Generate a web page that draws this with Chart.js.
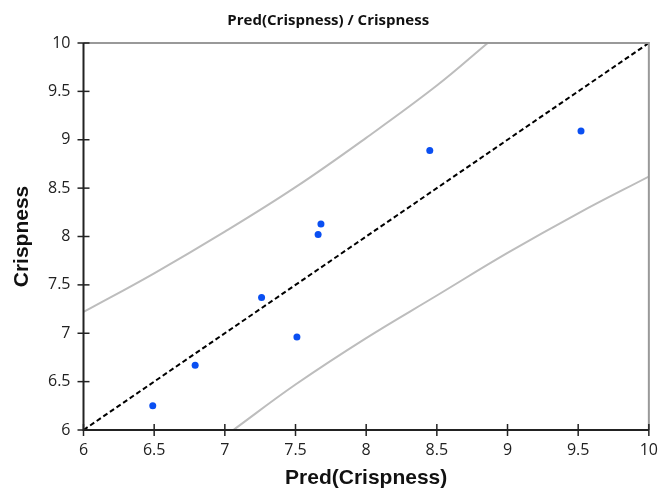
<!DOCTYPE html>
<html>
<head>
<meta charset="utf-8">
<script src="https://cdn.jsdelivr.net/npm/chart.js@4"></script>
<style>
  html, body { margin: 0; padding: 0; background: #fff; }
  #wrap { width: 661px; height: 491px; }
</style>
</head>
<body>
<div id="wrap"><canvas id="chart" width="661" height="491"></canvas></div>
<script>
// Observed vs predicted
const predValues = [6.49, 6.79, 7.26, 7.51, 7.66, 7.68, 8.45, 9.52];
const crispValues = [6.25, 6.67, 7.37, 6.96, 8.02, 8.13, 8.89, 9.09];

// Confidence band (upper / lower)
const upperX = [6, 6.5, 7, 7.5, 8, 8.5, 8.86];
const upperY = [7.22, 7.62, 8.05, 8.51, 9.02, 9.56, 10];
const lowerX = [7.06, 7.5, 8, 8.5, 9, 9.5, 10];
const lowerY = [6, 6.47, 6.95, 7.39, 7.83, 8.24, 8.62];

// Identity line
const diagX = [6, 10];
const diagY = [6, 10];

const axisMin = 6;
const axisMax = 10;
const tickStep = 0.5;

const toPoints = (xs, ys) => xs.map((x, i) => ({ x, y: ys[i] }));

// Frame: dark left/bottom, grey top/right, ticks crossing the axes
const framePlugin = {
    id: 'frame',
    afterDatasetsDraw(chart) {
        const { ctx, chartArea: a, scales } = chart;
        ctx.save();
        ctx.lineWidth = 2;
        ctx.strokeStyle = '#999';
        ctx.beginPath();
        ctx.moveTo(a.left, a.top);
        ctx.lineTo(a.right, a.top);
        ctx.lineTo(a.right, a.bottom);
        ctx.stroke();

        ctx.strokeStyle = '#222';
        ctx.beginPath();
        ctx.moveTo(a.left, a.top);
        ctx.lineTo(a.left, a.bottom);
        ctx.lineTo(a.right, a.bottom);
        ctx.stroke();

        ctx.lineWidth = 1.5;
        scales.x.ticks.forEach(t => {
            const px = scales.x.getPixelForValue(t.value);
            ctx.beginPath();
            ctx.moveTo(px, a.bottom - 6);
            ctx.lineTo(px, a.bottom + 6);
            ctx.stroke();
        });
        scales.y.ticks.forEach(t => {
            const py = scales.y.getPixelForValue(t.value);
            ctx.beginPath();
            ctx.moveTo(a.left - 6, py);
            ctx.lineTo(a.left + 6, py);
            ctx.stroke();
        });
        ctx.restore();
    }
};

const tickFont = { family: 'Open Sans', size: 16 };
const axisTitleFont = { family: 'Liberation Sans', size: 21, weight: 'bold' };

const ctx = document.getElementById('chart').getContext('2d');
new Chart(ctx, {
    type: 'scatter',
    data: {
        datasets: [
            {
                label: 'Crispness',
                data: toPoints(predValues, crispValues),
                backgroundColor: '#0a4ff2',
                borderWidth: 0,
                pointRadius: 3.5,
                order: 0
            },
            {
                type: 'line',
                label: 'y = x',
                data: toPoints(diagX, diagY),
                borderColor: '#000',
                borderWidth: 2,
                borderDash: [5, 3],
                pointRadius: 0,
                order: 1
            },
            {
                type: 'line',
                label: 'upper',
                data: toPoints(upperX, upperY),
                borderColor: '#bdbdbd',
                borderWidth: 2,
                pointRadius: 0,
                tension: 0.4,
                order: 2
            },
            {
                type: 'line',
                label: 'lower',
                data: toPoints(lowerX, lowerY),
                borderColor: '#bdbdbd',
                borderWidth: 2,
                pointRadius: 0,
                tension: 0.4,
                order: 2
            }
        ]
    },
    options: {
        responsive: false,
        animation: false,
        layout: {
            padding: { top: 0, right: 4.5, left: 0, bottom: 0 }
        },
        plugins: {
            legend: { display: false },
            tooltip: { enabled: false },
            title: {
                display: true,
                text: 'Pred(Crispness) / Crispness',
                color: '#111',
                font: { family: "'Open Sans', sans-serif", size: 15, weight: 'bold' },
                padding: { top: 12, bottom: 13 }
            }
        },
        scales: {
            x: {
                type: 'linear',
                min: axisMin,
                max: axisMax,
                grid: { display: false },
                border: { display: false },
                ticks: {
                    stepSize: tickStep,
                    padding: 3,
                    color: '#222',
                    font: tickFont,
                    callback: v => String(v)
                },
                title: {
                    display: true,
                    text: 'Pred(Crispness)',
                    color: '#111',
                    font: axisTitleFont,
                    padding: { top: 0, bottom: 0 }
                },
                afterFit(scale) { scale.height = 61; }
            },
            y: {
                type: 'linear',
                min: axisMin,
                max: axisMax,
                grid: { display: false },
                border: { display: false },
                ticks: {
                    stepSize: tickStep,
                    padding: 5,
                    color: '#222',
                    font: tickFont,
                    callback: v => String(v)
                },
                title: {
                    display: true,
                    text: 'Crispness',
                    color: '#111',
                    font: axisTitleFont,
                    padding: { top: 10, bottom: 0 }
                },
                afterFit(scale) { scale.width = 83.5; }
            }
        }
    },
    plugins: [framePlugin]
});
</script>
</body>
</html>
